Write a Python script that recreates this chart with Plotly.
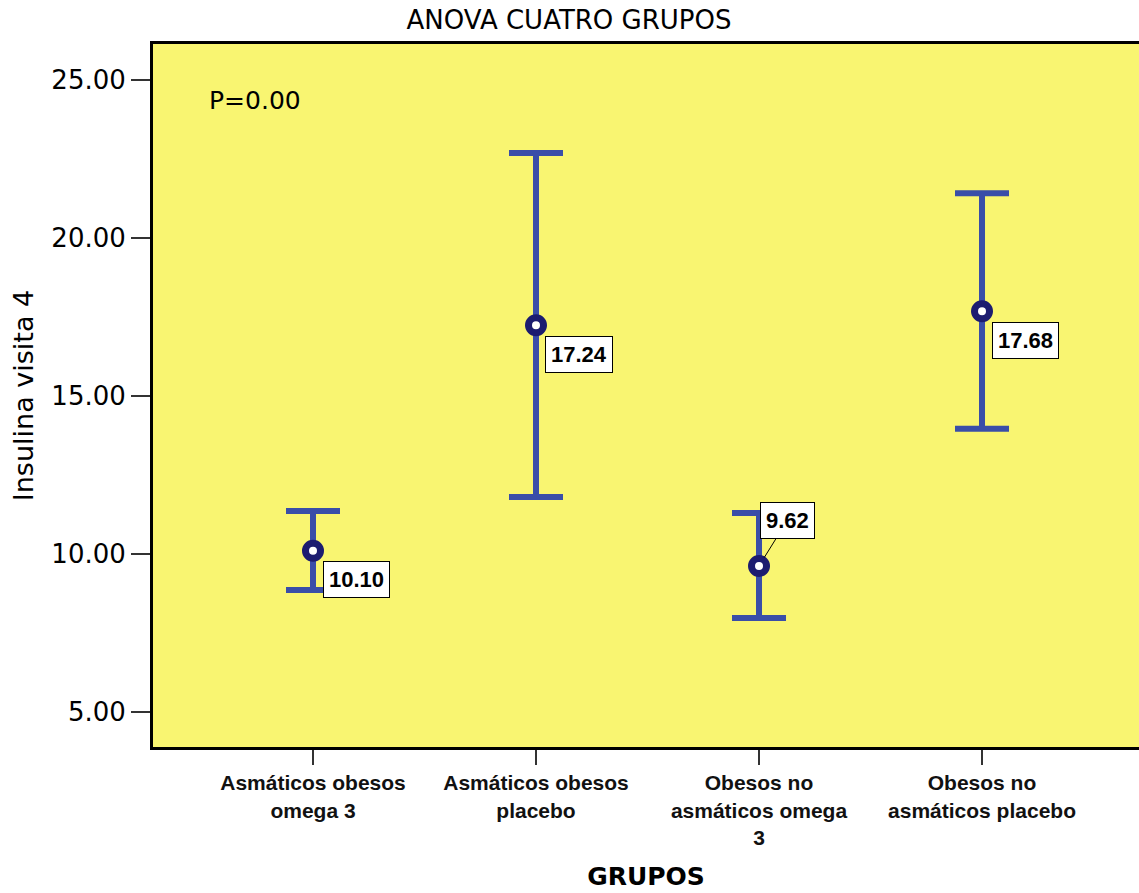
import plotly.graph_objects as go

categories = ["Asmáticos obesos<br>omega 3", "Asmáticos obesos<br>placebo",
              "Obesos no<br>asmáticos omega<br>3", "Obesos no<br>asmáticos placebo"]
means = [10.10, 17.24, 9.62, 17.68]
upper = [11.36, 22.69, 11.30, 21.42]
lower = [8.86, 11.80, 7.97, 13.96]
mean_labels = ["10.10", "17.24", "9.62", "17.68"]
y_ticks = [5, 10, 15, 20, 25]

xpos = list(range(len(categories)))
lib = "Liberation Sans, Arial, sans-serif"
dej = "DejaVu Sans, sans-serif"

fig = go.Figure()
fig.add_trace(go.Scatter(
    x=xpos, y=means, mode="markers",
    marker=dict(symbol="circle", size=15, color="white",
                line=dict(color="#1c1c70", width=7)),
    error_y=dict(type="data", symmetric=False,
                 array=[u - m for u, m in zip(upper, means)],
                 arrayminus=[m - l for m, l in zip(means, lower)],
                 color="#3a4ea8", thickness=6, width=27),
    showlegend=False, hoverinfo="skip"))

# value labels
for i, (m, lab) in enumerate(zip(means, mean_labels)):
    common = dict(x=xpos[i], y=m, text="<b>" + lab + "</b>",
                  bgcolor="white", bordercolor="black", borderwidth=1, borderpad=5,
                  font=dict(family=lib, size=22, color="black"))
    if lab == "9.62":
        fig.add_annotation(showarrow=True, arrowhead=0, arrowwidth=1, arrowcolor="black",
                           ax=28, ay=-45, standoff=10, **common)
    else:
        fig.add_annotation(showarrow=False, xshift=43, yshift=-29, **common)

fig.add_annotation(x=(207 - 153) / (1139 - 153), y=1 - (100 - 44) / (747 - 44),
                   xref="paper", yref="paper", text="P=0.00",
                   showarrow=False, xanchor="left", yanchor="middle",
                   font=dict(family=dej, size=25, color="black"))

fig.update_layout(
    width=1139, height=893,
    margin=dict(l=153, r=0, t=44, b=146, autoexpand=False),
    paper_bgcolor="white", plot_bgcolor="#f9f571",
    title=dict(text="ANOVA CUATRO GRUPOS", x=569 / 1139, xanchor="center",
               y=1 - 20 / 893, yanchor="middle",
               font=dict(family=dej, size=26, color="black")),
    font=dict(family=lib, color="black"),
)
fig.update_xaxes(
    range=[-0.7175, 3.704], tickmode="array", tickvals=xpos,
    ticktext=["<b>" + c + "</b>" for c in categories],
    tickfont=dict(family=lib, size=21, color="#111111"),
    ticks="outside", ticklen=15, tickwidth=2, tickcolor="#333333",
    showline=True, linecolor="black", linewidth=3, mirror=True,
    showgrid=False, zeroline=False,
    title=dict(text="<b>GRUPOS</b>", font=dict(family=dej, size=25, color="black"), standoff=20),
)
fig.update_yaxes(
    range=[3.89, 26.14], tickmode="array", tickvals=y_ticks,
    ticktext=[f"{v:.2f}" for v in y_ticks],
    tickfont=dict(family=dej, size=26, color="black"),
    ticks="outside", ticklen=19, tickwidth=2, tickcolor="#333333",
    showline=True, linecolor="black", linewidth=3, mirror=False,
    showgrid=False, zeroline=False,
    title=dict(text="Insulina visita 4", font=dict(family=dej, size=27, color="black"), standoff=10),
)

fig.write_html("out.html", config={"displayModeBar": False},
               post_script="document.body.style.margin='0';")
